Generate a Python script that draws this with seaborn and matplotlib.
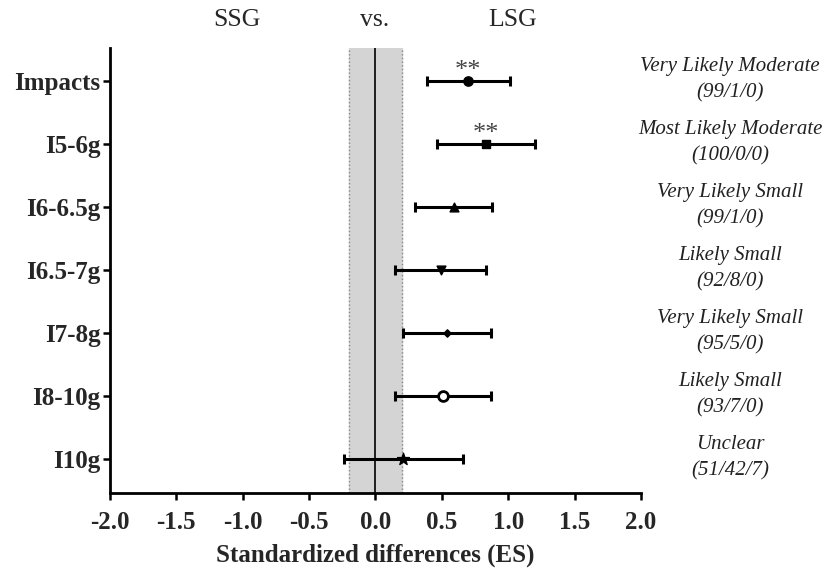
import seaborn as sns
import matplotlib.pyplot as plt
import pandas as pd

# data
categories = ["Impacts", "I5-6g", "I6-6.5g", "I6.5-7g", "I7-8g", "I8-10g", "I10g"]
es = [0.70, 0.83, 0.59, 0.49, 0.54, 0.51, 0.21]
ci_low = [0.39, 0.46, 0.30, 0.15, 0.21, 0.15, -0.24]
ci_high = [1.01, 1.20, 0.88, 0.83, 0.87, 0.87, 0.66]
inference = ["Very Likely Moderate", "Most Likely Moderate", "Very Likely Small",
             "Likely Small", "Very Likely Small", "Likely Small", "Unclear"]
chances = ["(99/1/0)", "(100/0/0)", "(99/1/0)", "(92/8/0)", "(95/5/0)", "(93/7/0)", "(51/42/7)"]
significance = ["**", "**", "", "", "", "", ""]
marker_shapes = ["o", "s", "^", "v", "D", "o", "*"]

sns.set_style("ticks")
plt.rcParams["font.family"] = ["Liberation Serif", "DejaVu Serif"]

df = pd.DataFrame({"cat": categories, "es": es, "lo": ci_low, "hi": ci_high})
df["pos"] = range(len(categories))

fig = plt.figure(figsize=(8.22, 5.71), dpi=100)
ax = fig.add_axes([0.1338, 0.1366, 0.646, 0.7793])

# trivial zone
ax.axvspan(-0.2, 0.2, color="#d4d4d4", zorder=0)
ax.axvline(-0.2, color="#888888", ls=":", lw=1, zorder=1)
ax.axvline(0.2, color="#888888", ls=":", lw=1, zorder=1)
ax.axvline(0, color="black", lw=1.2, zorder=1)

ax.errorbar(df["es"], df["pos"], xerr=[df["es"] - df["lo"], df["hi"] - df["es"]],
            fmt="none", ecolor="black", elinewidth=2.2, capsize=3.3, capthick=2.2, zorder=2)

sizes = {"o": 45, "s": 38, "^": 40, "v": 40, "D": 14, "*": 80}
for i, row in df.iterrows():
    m = marker_shapes[i]
    if i == 5:
        ax.scatter(row["es"], row["pos"], marker="o", s=50, facecolor="white",
                   edgecolor="black", linewidth=2, zorder=3)
    else:
        ax.scatter(row["es"], row["pos"], marker=m, s=sizes[m], color="black", zorder=3)
    if significance[i]:
        ax.text(row["es"], row["pos"] - 0.17, significance[i], ha="center", va="center",
                fontsize=19, color="#444444")
    ax.text(1.168, row["pos"] - 0.02, inference[i] + "\n" + chances[i],
            transform=ax.get_yaxis_transform(),
            ha="center", va="center", fontsize=15, style="italic",
            linespacing=1.5, color="#222222")

ax.set_xlim(-2, 2)
ax.set_ylim(6.54, -0.53)
ax.set_xticks([-2, -1.5, -1, -0.5, 0, 0.5, 1, 1.5, 2])
ax.set_xticklabels([f"{v:.1f}" for v in [-2, -1.5, -1, -0.5, 0, 0.5, 1, 1.5, 2]])
ax.set_yticks(df["pos"])
ax.set_yticklabels(categories)
for lab in ax.get_xticklabels() + ax.get_yticklabels():
    lab.set_fontweight("bold")
    lab.set_fontsize(18)
ax.tick_params(width=1.8, length=5, color="black")
ax.tick_params(axis="x", pad=8)
ax.tick_params(axis="y", pad=2)
ax.set_xlabel("Standardized differences (ES)", fontsize=18, fontweight="bold", labelpad=7)
ax.set_ylabel("")
sns.despine(ax=ax)
for s in ["left", "bottom"]:
    ax.spines[s].set_linewidth(2)
    ax.spines[s].set_color("black")

fig.text(237 / 822, 1 - 20 / 571, "SSG", ha="center", va="center", fontsize=18.5)
fig.text(375 / 822, 1 - 20 / 571, "vs.", ha="center", va="center", fontsize=18.5)
fig.text(513 / 822, 1 - 20 / 571, "LSG", ha="center", va="center", fontsize=18.5)

fig.savefig("out.png", dpi=100)
